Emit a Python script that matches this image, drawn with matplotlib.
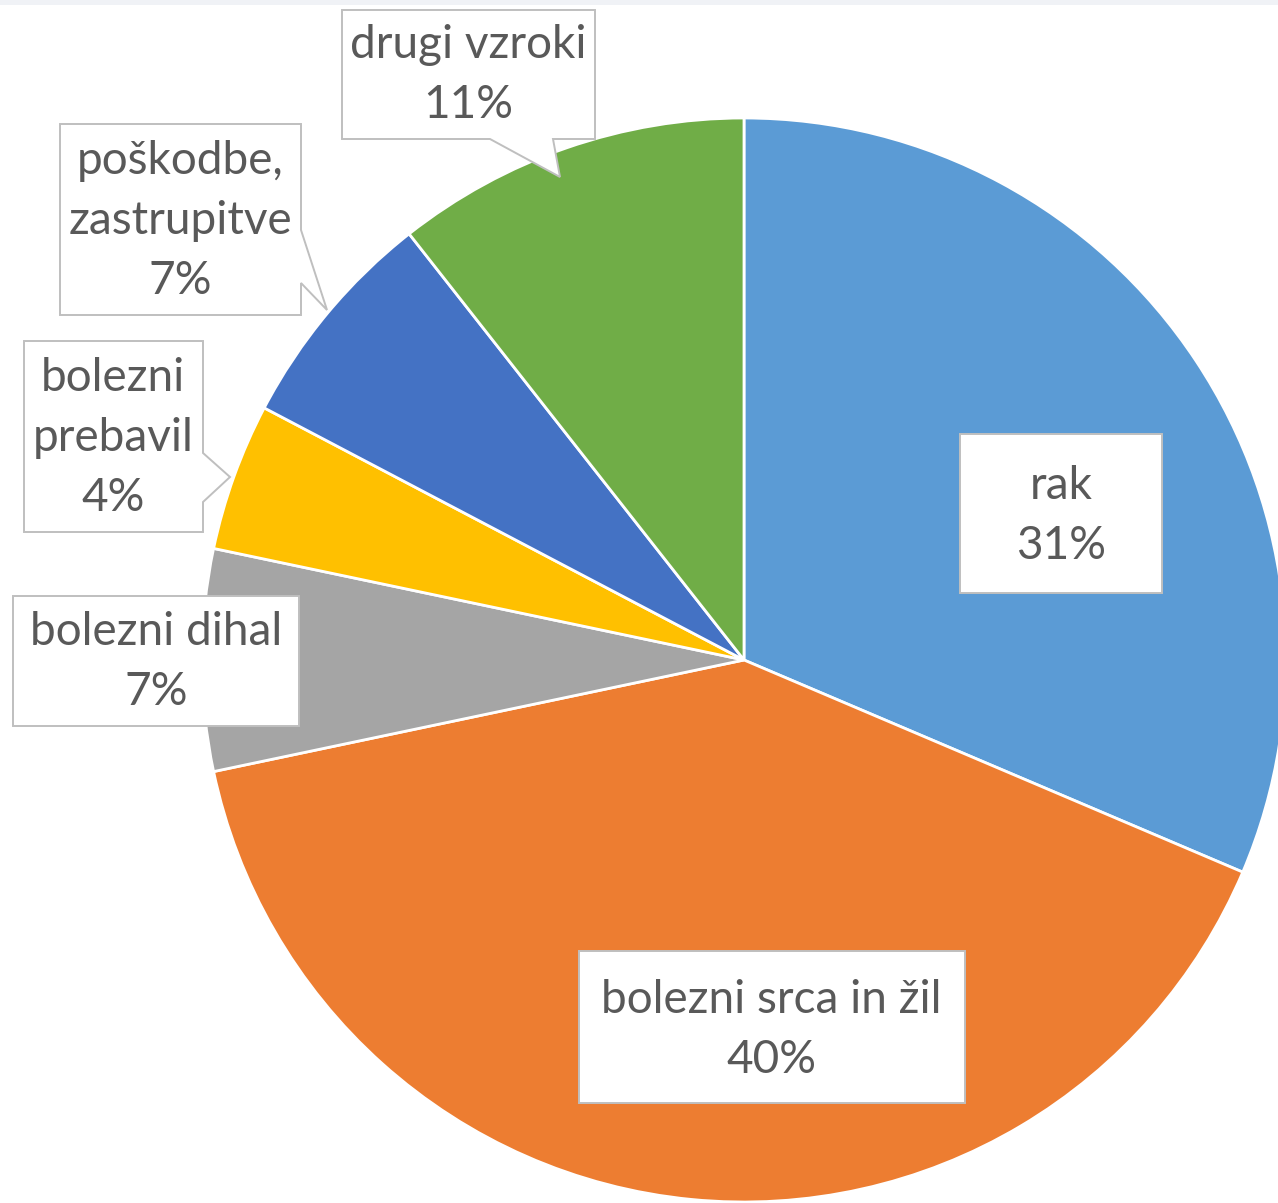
import matplotlib
matplotlib.use("Agg")
import matplotlib.pyplot as plt
from matplotlib.patches import Polygon, Rectangle

# ---- data ----
categories = ["rak", "bolezni srca in žil", "bolezni dihal", "bolezni prebavil",
              "poškodbe, zastrupitve", "drugi vzroki"]
label_lines = [["rak"], ["bolezni srca in žil"], ["bolezni dihal"],
               ["bolezni", "prebavil"], ["poškodbe,", "zastrupitve"], ["drugi vzroki"]]
shares = [31.4, 40.3, 6.6, 4.4, 6.7, 10.6]
colors = ["#5B9BD5", "#ED7D31", "#A5A5A5", "#FFC000", "#4472C4", "#70AD47"]

# ---- layout (pixel coords, y down) ----
W, H = 1278, 1203
CX, CY, R = 744, 660, 542
# label box outlines (callouts) per category
boxes = [
    [(960, 434), (1162, 434), (1162, 593), (960, 593)],
    [(579, 951), (965, 951), (965, 1103), (579, 1103)],
    [(13, 596), (299, 596), (299, 726), (13, 726)],
    [(24, 341), (203, 341), (203, 453), (230, 477), (203, 502), (203, 532), (24, 532)],
    [(60, 124), (301, 124), (301, 230), (327, 310), (301, 283), (301, 315), (60, 315)],
    [(342, 10), (595, 10), (595, 139), (553, 139), (560, 177), (490, 139), (342, 139)],
]
text_centers = [(1061, 516), (771, 1030), (156, 662), (113, 438), (180, 221), (468, 75)]
LINE = 60

fig = plt.figure(figsize=(W / 100, H / 100), dpi=100)
ax = fig.add_axes([0, 0, 1, 1])

ax.pie(shares, colors=colors, startangle=90, counterclock=False,
       center=(CX, H - CY), radius=R,
       wedgeprops=dict(edgecolor="white", linewidth=2.0))
ax.set_xlim(0, W)
ax.set_ylim(0, H)
ax.set_aspect("auto")
ax.axis("off")

# top strip
ax.add_patch(Rectangle((0, H - 5), W, 5, facecolor="#F0F2F6", edgecolor="none", zorder=0))

for lines, share, box, (tx, ty) in zip(label_lines, shares, boxes, text_centers):
    verts = [(x, H - y) for x, y in box]
    ax.add_patch(Polygon(verts, closed=True, facecolor="white", edgecolor="#BFBFBF",
                         linewidth=1.4, zorder=3))
    all_lines = lines + [f"{share:.0f}%"]
    n = len(all_lines)
    for i, s in enumerate(all_lines):
        y = ty + (i - (n - 1) / 2) * LINE
        ax.text(tx, H - y, s, ha="center", va="center", fontsize=33,
                family=["Lato", "DejaVu Sans"], color="#595959", zorder=4)

fig.savefig("out.png", dpi=100)
